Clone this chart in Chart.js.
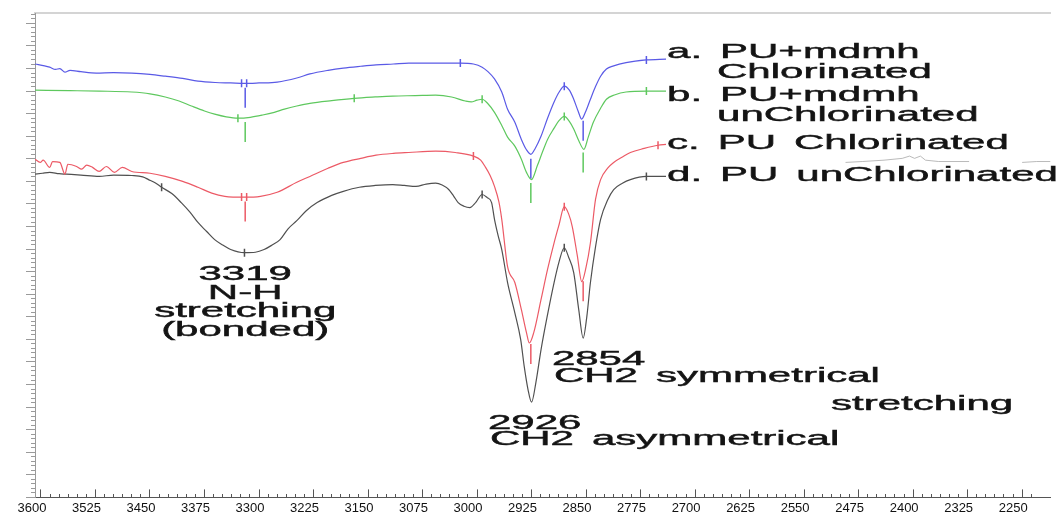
<!DOCTYPE html>
<html>
<head>
<meta charset="utf-8">
<script src="https://cdn.jsdelivr.net/npm/chart.js@4.4.1/dist/chart.umd.min.js"></script>
<style>
  html, body { margin: 0; padding: 0; background: #fff; overflow: hidden; }
</style>
</head>
<body>
<canvas id="ftir" width="1062" height="527"></canvas>
<script>
// wavenumber tick labels (cm-1)
var tickLabels = [3600, 3525, 3450, 3375, 3300, 3225, 3150, 3075, 3000, 2925,
                  2850, 2775, 2700, 2625, 2550, 2475, 2400, 2325, 2250];

// a. PU+mdmh Chlorinated
var aWn = [3608, 3595, 3588, 3580, 3574, 3567, 3560, 3545, 3524, 3500,
           3475, 3450, 3429, 3405, 3384, 3360, 3339, 3320, 3300, 3275,
           3248, 3230, 3205, 3184, 3160, 3139, 3115, 3094, 3057, 3023,
           3005, 2993, 2985, 2976, 2966, 2958, 2948, 2939, 2932, 2926,
           2920, 2912, 2903, 2894, 2887, 2880, 2873, 2867, 2861, 2856,
           2851, 2844, 2837, 2830, 2822, 2812, 2795, 2767, 2740];
var aT = [96.0, 95.6, 95.3, 94.8, 95.0, 94.2, 94.6, 94.3, 94.0, 94.1,
          94.0, 93.7, 93.3, 92.8, 92.2, 91.9, 91.8, 91.7, 91.8, 92.0,
          92.9, 93.8, 94.6, 95.1, 95.5, 95.8, 96.0, 96.2, 96.2, 96.2,
          96.0, 95.3, 94.3, 92.7, 89.8, 86.0, 83.1, 79.3, 77.0, 76.0,
          77.3, 80.0, 84.0, 87.6, 89.8, 91.1, 90.2, 88.2, 85.6, 83.8,
          85.3, 88.2, 91.0, 93.3, 94.9, 95.6, 96.3, 96.9, 97.1];

// b. PU+mdmh unChlorinated
var bWn = [3608, 3560, 3520, 3475, 3450, 3429, 3410, 3393, 3375, 3361,
           3345, 3329, 3312, 3295, 3279, 3265, 3248, 3230, 3200, 3169,
           3140, 3116, 3085, 3057, 3035, 3016, 3008, 3000, 2993, 2985,
           2976, 2966, 2958, 2948, 2939, 2932, 2925, 2917, 2910, 2903,
           2894, 2887, 2880, 2873, 2867, 2860, 2853, 2847, 2840, 2830,
           2822, 2810, 2795, 2767, 2740];
var bT = [90.2, 90.1, 90.0, 89.8, 89.4, 88.7, 87.8, 86.7, 85.6, 84.9,
          84.3, 84.0, 84.2, 84.7, 85.3, 86.0, 86.7, 87.3, 87.9, 88.4,
          88.7, 88.9, 89.0, 89.1, 88.7, 87.8, 87.6, 88.0, 88.2, 87.2,
          85.3, 82.4, 79.8, 77.8, 74.9, 72.0, 70.4, 73.5, 76.5, 79.3,
          81.8, 83.5, 84.4, 83.3, 81.6, 79.0, 77.1, 79.8, 83.1, 86.2,
          88.2, 89.2, 89.8, 90.0, 90.0];

// c. PU Chlorinated
var cWn = [3608, 3601, 3597, 3588, 3584, 3574, 3567, 3563, 3551, 3544,
           3537, 3529, 3520, 3510, 3499, 3488, 3475, 3450, 3429, 3405,
           3384, 3365, 3347, 3320, 3298, 3275, 3248, 3230, 3205, 3184,
           3160, 3139, 3115, 3094, 3057, 3030, 3005, 2995, 2989, 2982,
           2976, 2970, 2966, 2958, 2948, 2939, 2932, 2928, 2922, 2912,
           2903, 2894, 2887, 2880, 2874, 2869, 2862, 2856, 2850, 2844,
           2837, 2830, 2820, 2812, 2800, 2789, 2770, 2751, 2740];
var cT = [74.9, 74.2, 74.7, 73.1, 74.4, 74.2, 71.6, 73.8, 73.3, 72.7,
          73.6, 73.1, 72.2, 73.3, 72.0, 73.1, 72.2, 71.8, 71.1, 70.0,
          68.7, 67.4, 66.7, 66.5, 66.7, 67.6, 69.8, 71.1, 72.9, 74.2,
          75.1, 75.8, 76.2, 76.4, 76.7, 76.4, 75.6, 74.7, 73.3, 71.3,
          68.9, 65.5, 61.6, 51.1, 47.6, 41.6, 36.5, 34.2, 36.5, 43.8,
          50.5, 56.4, 60.5, 64.4, 62.8, 60.0, 53.5, 47.8, 51.0, 56.4,
          66.0, 70.4, 73.0, 74.2, 75.4, 76.4, 77.3, 78.0, 78.2];

// d. PU unChlorinated
var dWn = [3608, 3598, 3588, 3575, 3565, 3545, 3520, 3500, 3475, 3460,
           3452, 3443, 3434, 3420, 3407, 3395, 3384, 3372, 3361, 3350,
           3339, 3320, 3305, 3293, 3282, 3271, 3260, 3248, 3235, 3220,
           3200, 3184, 3162, 3140, 3116, 3100, 3084, 3070, 3057, 3048,
           3039, 3032, 3026, 3018, 3010, 3002, 2993, 2986, 2980, 2976,
           2971, 2966, 2958, 2948, 2940, 2935, 2930, 2925, 2919, 2912,
           2903, 2894, 2887, 2880, 2874, 2867, 2860, 2854, 2849, 2844,
           2837, 2830, 2820, 2812, 2800, 2789, 2767, 2740];
var dT = [71.6, 71.8, 72.0, 71.7, 71.6, 71.4, 71.1, 71.4, 71.3, 71.0,
          70.4, 69.7, 68.7, 67.3, 65.3, 63.2, 60.9, 58.9, 57.1, 55.9,
          54.9, 54.2, 54.3, 54.9, 55.9, 57.1, 59.5, 61.3, 63.5, 65.3,
          66.9, 67.8, 68.7, 69.1, 69.3, 69.1, 68.9, 69.4, 69.6, 69.2,
          68.2, 66.7, 65.3, 64.5, 64.2, 65.3, 67.1, 66.4, 65.3, 61.6,
          58.0, 54.9, 47.6, 40.9, 35.0, 28.9, 24.0, 21.1, 25.5, 32.7,
          40.5, 47.6, 52.3, 55.3, 53.2, 49.8, 41.5, 35.3, 40.0, 47.6,
          55.5, 61.6, 66.0, 68.2, 69.6, 70.4, 71.1, 71.1];

// faint grey trace fragment showing behind the labels on the right
var eWn = [2493, 2470, 2440, 2415, 2405, 2398, 2390, 2383, 2365, 2323, 2290,
           2250, 2230, 2211];
var eT = [74.2, 74.4, 74.7, 75.1, 75.6, 75.1, 75.6, 74.7, 74.4, 74.4, null,
          74.2, 74.4, 74.4];

// peak-pick ticks on each trace, and the drop lines under the picked peaks
var aMarks = [3324, 3317, 3023, 2880, 2767];
var bMarks = [3329, 3169, 2993, 2880, 2767];
var cMarks = [3324, 3317, 3005, 2880, 2751];
var dMarks = [3434, 3320, 2993, 2880, 2767];
var peakDrops = [3319, 2926, 2854];

var seriesLabels = [['a. PU+mdmh', 'Chlorinated'], ['b. PU+mdmh', 'unChlorinated'],
                    ['c. PU Chlorinated'], ['d. PU unChlorinated']];
var noteNH = ['3319', 'N-H', 'stretching', '(bonded)'];
var noteSym = ['2854', 'CH2 symmetrical'];
var noteStretch = ['stretching'];
var noteAsym = ['2926', 'CH2 asymmetrical'];

var colors = ['#5a5ae6', '#5ec85e', '#ec5a66', '#505050'];

function pts(wn, t) {
  return wn.map(function (w, i) { return { x: w, y: t[i] }; });
}
// value of a trace at a wavenumber (for placing pick ticks on it)
function valueAt(wn, t, w) {
  for (var i = 0; i < wn.length - 1; i++) {
    if (w <= wn[i] && w >= wn[i + 1]) {
      var f = (wn[i] - w) / (wn[i] - wn[i + 1]);
      return t[i] + f * (t[i + 1] - t[i]);
    }
  }
  return t[t.length - 1];
}

var traces = [[aWn, aT, aMarks, true], [bWn, bT, bMarks, true],
              [cWn, cT, cMarks, true], [dWn, dT, dMarks, false]];

var datasets = [];
traces.forEach(function (tr, k) {
  datasets.push({
    label: seriesLabels[k].join(' '),
    data: pts(tr[0], tr[1]),
    borderColor: colors[k],
    borderWidth: 1.2,
    pointRadius: 0,
    cubicInterpolationMode: 'monotone',
    fill: false
  });
});
datasets.push({
  label: 'fragment',
  data: pts(eWn, eT),
  borderColor: '#a8a8a8',
  borderWidth: 0.8,
  pointRadius: 0,
  spanGaps: false,
  fill: false
});
traces.forEach(function (tr, k) {
  datasets.push({
    label: 'picks ' + k,
    data: tr[2].map(function (w) { return { x: w, y: valueAt(tr[0], tr[1], w) }; }),
    showLine: false,
    pointStyle: 'line',
    rotation: 90,
    pointRadius: 4,
    borderColor: colors[k],
    borderWidth: 1.5
  });
  if (tr[3]) {
    datasets.push({
      label: 'drops ' + k,
      data: peakDrops.map(function (w) { return { x: w, y: valueAt(tr[0], tr[1], w) - 3.2 }; }),
      showLine: false,
      pointStyle: 'line',
      rotation: 90,
      pointRadius: 10,
      borderColor: colors[k],
      borderWidth: 1.5
    });
  }
});

var xStep = (tickLabels[0] - tickLabels[1]) / 6;
var xTickValues = [];
for (var v = tickLabels[0]; v >= tickLabels[tickLabels.length - 1] - xStep; v -= xStep) xTickValues.push(v);
var yTickValues = [];
for (var u = 0; u <= 107; u++) yTickValues.push(u);

function isMajorX(v) { return tickLabels.indexOf(v) >= 0; }

var STRETCH = 2.1;
var textPlugin = {
  id: 'ftirText',
  afterDatasetsDraw: function (chart) {
    var c = chart.ctx, sx = chart.scales.x, sy = chart.scales.y;
    c.save();
    c.font = '20px "Liberation Sans", Arial, sans-serif';
    c.fillStyle = '#141414';
    c.strokeStyle = '#141414';
    c.lineWidth = 0.45;
    c.textBaseline = 'alphabetic';
    c.textAlign = 'left';
    c.wordSpacing = '3px';
    function put(str, px, py, center) {
      var w = c.measureText(str).width * STRETCH;
      var left = center ? px - w / 2 : px;
      c.save();
      c.translate(left, py);
      c.scale(STRETCH, 1);
      c.fillText(str, 0, 0);
      c.strokeText(str, 0, 0);
      c.restore();
    }
    // N-H block, centred on its peak
    var cx = sx.getPixelForValue(3319);
    var by = sy.getPixelForValue(48.1);
    noteNH.forEach(function (s, i) { put(s, cx, by + i * 18.5, true); });
    // CH2 notes
    var x1 = sx.getPixelForValue(2897), y1 = sy.getPixelForValue(29.3);
    noteSym.forEach(function (s, i) { put(s, x1 + i * 2, y1 + i * 17, false); });
    put(noteStretch[0], sx.getPixelForValue(2513), sy.getPixelForValue(19.3), false);
    var x2 = sx.getPixelForValue(2985), y2 = sy.getPixelForValue(15.1);
    noteAsym.forEach(function (s, i) { put(s, x2 + i * 2, y2 + i * 16, false); });
    // trace labels at the end of each trace
    var offs = [-1, 10, 5, 5];
    traces.forEach(function (tr, k) {
      var n = tr[0].length - 1;
      var px = sx.getPixelForValue(tr[0][n]) + 1;
      var py = sy.getPixelForValue(tr[1][n]) + offs[k];
      seriesLabels[k].forEach(function (s, i) {
        put(s, px + (i ? 50 : 0), py + i * 19.5, false);
      });
    });
    c.restore();
  }
};

new Chart(document.getElementById('ftir'), {
  type: 'line',
  data: { datasets: datasets },
  plugins: [textPlugin],
  options: {
    responsive: false,
    animation: false,
    devicePixelRatio: 1,
    layout: { padding: { left: 26, top: 13, right: 0, bottom: 0 } },
    plugins: { legend: { display: false }, tooltip: { enabled: false } },
    scales: {
      x: {
        type: 'linear',
        position: 'bottom',
        reverse: true,
        min: 2211,
        max: 3608.2,
        afterBuildTicks: function (s) { s.ticks = xTickValues.map(function (t) { return { value: t }; }); },
        grid: {
          drawOnChartArea: false,
          tickLength: -8,
          tickColor: '#555',
          tickWidth: 1,
          tickBorderDash: function (ctx) { return isMajorX(ctx.tick.value) ? [] : [4, 20]; }
        },
        border: { display: true, color: '#555', width: 1 },
        ticks: {
          autoSkip: false,
          maxRotation: 0,
          minRotation: 0,
          padding: 11,
          labelOffset: -9,
          color: '#111',
          font: { family: 'Liberation Sans', size: 13 },
          callback: function (val) { return isMajorX(val) ? String(val) : ''; }
        }
      },
      xTop: {
        type: 'linear',
        axis: 'x',
        position: 'top',
        grid: { display: false, drawTicks: false, tickLength: 0 },
        ticks: { display: false },
        border: { display: true, color: '#d4d4d4', width: 2 }
      },
      y: {
        type: 'linear',
        position: 'left',
        min: 0,
        max: 107.3,
        afterBuildTicks: function (s) { s.ticks = yTickValues.map(function (t) { return { value: t }; }); },
        grid: {
          drawOnChartArea: false,
          tickLength: 9,
          tickColor: '#9a9a9a',
          tickBorderDash: function (ctx) { return ctx.tick.value % 5 === 0 ? [] : [4, 5]; },
          tickBorderDashOffset: function (ctx) { return ctx.tick.value % 5 === 0 ? 0 : 4; }
        },
        border: { display: true, color: '#9a9a9a', width: 1 },
        ticks: { display: false }
      }
    }
  }
});
</script>
</body>
</html>
